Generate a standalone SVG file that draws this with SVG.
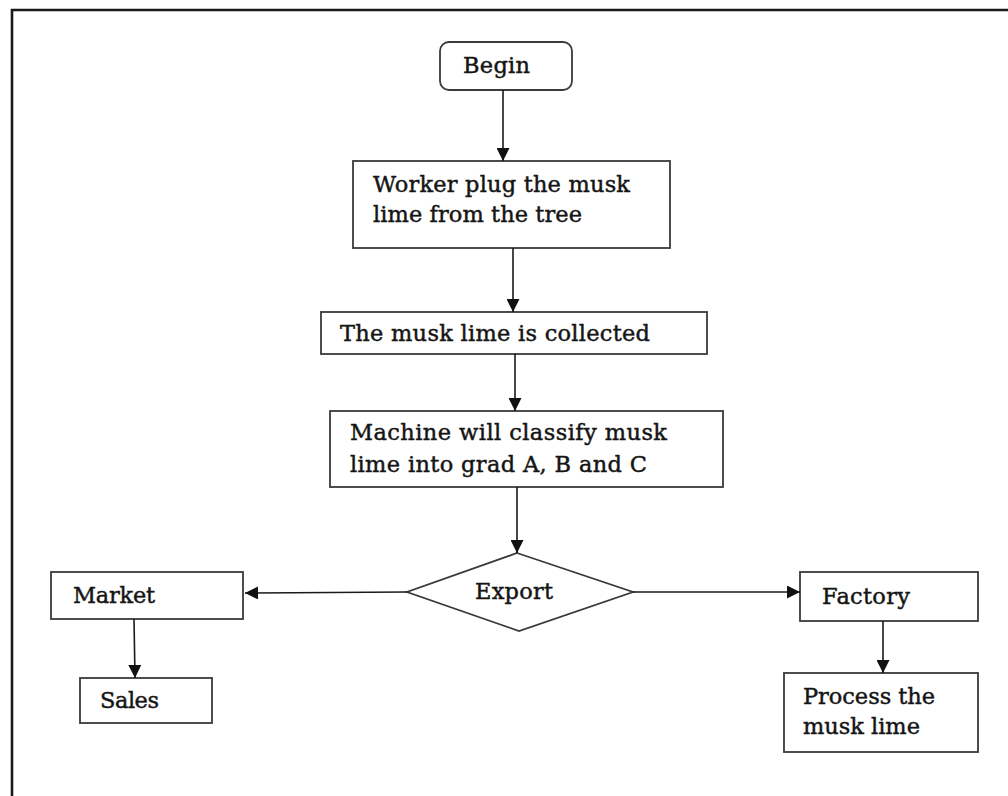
<svg xmlns="http://www.w3.org/2000/svg" width="1008" height="796" viewBox="0 0 1008 796">
  <style>
    .box { fill: #fff; stroke: #3a3a3a; stroke-width: 1.8; }
    .frame { fill: none; stroke: #1a1a1a; stroke-width: 2.6; }
    .edge { fill: none; stroke: #1a1a1a; stroke-width: 1.6; }
    .label { font-family: "DejaVu Serif", "Liberation Serif", serif; font-size: 22.5px; fill: #151515; stroke: #151515; stroke-width: 0.45; }
  </style>
  <defs>
    <marker id="arrow" viewBox="0 0 10 10" refX="10" refY="5" markerWidth="13" markerHeight="13" markerUnits="userSpaceOnUse" orient="auto">
      <path d="M0,0 L10,5 L0,10 z" fill="#111"/>
    </marker>
  </defs>

  <rect width="1008" height="796" fill="#fff"/>

  <!-- page frame (top and left rules) -->
  <path class="frame" d="M12,796 L12,10 L1008,10"/>

  <g id="begin">
    <rect class="box" x="440" y="42" width="132" height="48" rx="9" ry="9"/>
    <text class="label" x="463" y="73" textLength="67">Begin</text>
  </g>

  <g id="pluck">
    <rect class="box" x="353" y="161" width="317" height="87"/>
    <text class="label" x="373" y="192" textLength="257">Worker plug the musk</text>
    <text class="label" x="373" y="222" textLength="209">lime from the tree</text>
  </g>

  <g id="collect">
    <rect class="box" x="321" y="312" width="386" height="42"/>
    <text class="label" x="340" y="341" textLength="310">The musk lime is collected</text>
  </g>

  <g id="classify">
    <rect class="box" x="330" y="411" width="393" height="76"/>
    <text class="label" x="350" y="440" textLength="317">Machine will classify musk</text>
    <text class="label" x="350" y="472" textLength="297">lime into grad A, B and C</text>
  </g>

  <g id="export">
    <polygon class="box" points="517,553 633,592 519,631 407,592"/>
    <text class="label" x="475" y="599" textLength="78">Export</text>
  </g>

  <g id="market">
    <rect class="box" x="51" y="572" width="192" height="47"/>
    <text class="label" x="73" y="603" textLength="82">Market</text>
  </g>

  <g id="sales">
    <rect class="box" x="80" y="678" width="132" height="45"/>
    <text class="label" x="100" y="708" textLength="59">Sales</text>
  </g>

  <g id="factory">
    <rect class="box" x="800" y="572" width="178" height="49"/>
    <text class="label" x="822" y="604" textLength="88">Factory</text>
  </g>

  <g id="process">
    <rect class="box" x="784" y="673" width="194" height="79"/>
    <text class="label" x="803" y="704" textLength="132">Process the</text>
    <text class="label" x="803" y="734" textLength="117">musk lime</text>
  </g>

  <g id="connectors">
    <line class="edge" x1="503" y1="90" x2="503" y2="161" marker-end="url(#arrow)"/>
    <line class="edge" x1="513" y1="248" x2="513" y2="312" marker-end="url(#arrow)"/>
    <line class="edge" x1="515" y1="354" x2="515" y2="411" marker-end="url(#arrow)"/>
    <line class="edge" x1="517" y1="487" x2="517" y2="553" marker-end="url(#arrow)"/>
    <line class="edge" x1="407" y1="592" x2="245" y2="593" marker-end="url(#arrow)"/>
    <line class="edge" x1="633" y1="592" x2="800" y2="592" marker-end="url(#arrow)"/>
    <line class="edge" x1="134" y1="619" x2="135" y2="678" marker-end="url(#arrow)"/>
    <line class="edge" x1="883" y1="621" x2="883" y2="673" marker-end="url(#arrow)"/>
  </g>
</svg>
